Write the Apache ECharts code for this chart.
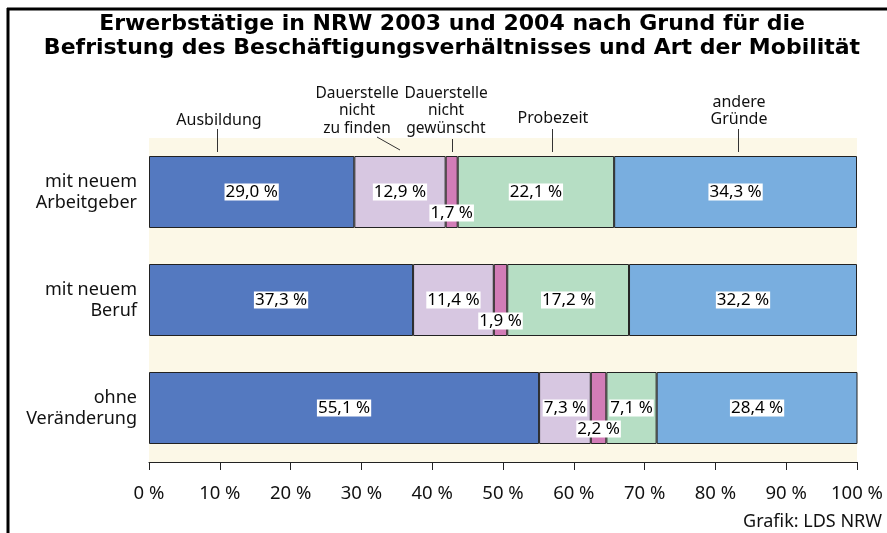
<!DOCTYPE html>
<html lang="de">
<head>
  <meta charset="UTF-8">
  <title>Erwerbstätige NRW Befristung</title>
  <style>
    html, body { margin: 0; padding: 0; background: #fff; }
    #chart { width: 887px; height: 533px; }
  </style>
  <script src="https://cdn.jsdelivr.net/npm/echarts@6/dist/echarts.min.js"></script>
</head>
<body>
<div id="chart"></div>
<script>
// Kategorien (von oben nach unten)
var categories = ['mit neuem\nArbeitgeber', 'mit neuem\nBeruf', 'ohne\nVeränderung'];
var seriesNames = ['Ausbildung', 'Dauerstelle nicht zu finden', 'Dauerstelle nicht gewünscht', 'Probezeit', 'andere Gründe'];
// Anteile in %
var ausbildung   = [29.0, 37.3, 55.1];
var nichtFinden  = [12.9, 11.4, 7.3];
var nichtGewuen  = [1.7, 1.9, 2.2];
var probezeit    = [22.1, 17.2, 7.1];
var andere       = [34.3, 32.2, 28.4];
var xTicks = [0, 10, 20, 30, 40, 50, 60, 70, 80, 90, 100];

var colors = ['#5479c0', '#d7c7e1', '#d27db7', '#b6dec4', '#79aedf'];
var font = 'Noto Sans';

var chart = echarts.init(document.getElementById('chart'));

function fmt(p) {
  return p.value.toFixed(1).replace('.', ',') + ' %';
}

function makeSeries(name, data, idx, offset) {
  return {
    type: 'bar',
    name: name,
    stack: 'total',
    data: data,
    barWidth: 72,
    itemStyle: { color: colors[idx], borderColor: '#222', borderWidth: 1 },
    label: {
      show: true,
      position: 'inside',
      offset: offset || [0, 0],
      formatter: fmt,
      color: '#000',
      fontFamily: font,
      fontSize: 17,
      backgroundColor: '#fff',
      padding: [0, 1, 0, 1]
    },
    emphasis: { disabled: true },
    silent: true
  };
}

var option = {
  animation: false,
  backgroundColor: '#fff',
  textStyle: { fontFamily: font },
  grid: {
    left: 149, right: 30, top: 138, bottom: 71,
    show: true,
    backgroundColor: '#fcf8e7',
    borderWidth: 0
  },
  xAxis: {
    type: 'value',
    min: 0, max: 100, interval: 10,
    axisLine: { show: true, lineStyle: { color: '#222', width: 1 } },
    axisTick: { show: true, length: 8, inside: false, lineStyle: { color: '#222' } },
    splitLine: { show: false },
    axisLabel: {
      margin: 22,
      fontSize: 18.5,
      color: '#111',
      fontFamily: font,
      formatter: function (v) { return xTicks.indexOf(v) >= 0 ? v + ' %' : ''; }
    }
  },
  yAxis: {
    type: 'category',
    inverse: true,
    data: categories,
    axisLine: { show: false },
    axisTick: { show: false },
    axisLabel: {
      margin: 12,
      fontSize: 18,
      lineHeight: 21,
      color: '#111',
      fontFamily: font,
      align: 'right'
    }
  },
  series: [
    makeSeries(seriesNames[0], ausbildung, 0),
    makeSeries(seriesNames[1], nichtFinden, 1),
    makeSeries(seriesNames[2], nichtGewuen, 2, [0, 21]),
    makeSeries(seriesNames[3], probezeit, 3),
    makeSeries(seriesNames[4], andere, 4)
  ],
  graphic: [
    // Rahmen oben und links
    { type: 'line', shape: { x1: 7, y1: 9, x2: 887, y2: 9 }, style: { stroke: '#000', lineWidth: 3 } },
    { type: 'line', shape: { x1: 8, y1: 8, x2: 8, y2: 533 }, style: { stroke: '#000', lineWidth: 3 } },
    // Titel
    { type: 'text', x: 452, y: 12, style: {
        text: 'Erwerbstätige in NRW 2003 und 2004 nach Grund für die\nBefristung des Beschäftigungsverhältnisses und Art der Mobilität',
        font: 'bold 22px "DejaVu Sans"', fill: '#000', textAlign: 'center', lineHeight: 24 } },
    // Legendenbeschriftungen
    { type: 'text', x: 219, y: 120, style: { text: 'Ausbildung', font: '16px "Noto Sans"', fill: '#111', textAlign: 'center', textVerticalAlign: 'middle' } },
    { type: 'line', shape: { x1: 217.5, y1: 129, x2: 217.5, y2: 152 }, style: { stroke: '#333', lineWidth: 1 } },
    { type: 'text', x: 357, y: 111, style: { text: 'Dauerstelle\nnicht\nzu finden', font: '15.5px "Noto Sans"', lineHeight: 17.5, fill: '#111', textAlign: 'center', textVerticalAlign: 'middle' } },
    { type: 'line', shape: { x1: 377, y1: 137, x2: 400, y2: 150 }, style: { stroke: '#333', lineWidth: 1 } },
    { type: 'text', x: 446, y: 111, style: { text: 'Dauerstelle\nnicht\ngewünscht', font: '15.5px "Noto Sans"', lineHeight: 17.5, fill: '#111', textAlign: 'center', textVerticalAlign: 'middle' } },
    { type: 'line', shape: { x1: 452.5, y1: 139, x2: 452.5, y2: 152 }, style: { stroke: '#333', lineWidth: 1 } },
    { type: 'text', x: 553, y: 118, style: { text: 'Probezeit', font: '16px "Noto Sans"', fill: '#111', textAlign: 'center', textVerticalAlign: 'middle' } },
    { type: 'line', shape: { x1: 552.5, y1: 129, x2: 552.5, y2: 152 }, style: { stroke: '#333', lineWidth: 1 } },
    { type: 'text', x: 739, y: 111, style: { text: 'andere\nGründe', font: '16px "Noto Sans"', lineHeight: 17, fill: '#111', textAlign: 'center', textVerticalAlign: 'middle' } },
    { type: 'line', shape: { x1: 738.5, y1: 129, x2: 738.5, y2: 152 }, style: { stroke: '#333', lineWidth: 1 } },
    // Quelle
    { type: 'text', right: 5, top: 513, style: { text: 'Grafik: LDS NRW', font: '18px "Noto Sans"', fill: '#111' } }
  ]
};
chart.setOption(option);
</script>
</body>
</html>
